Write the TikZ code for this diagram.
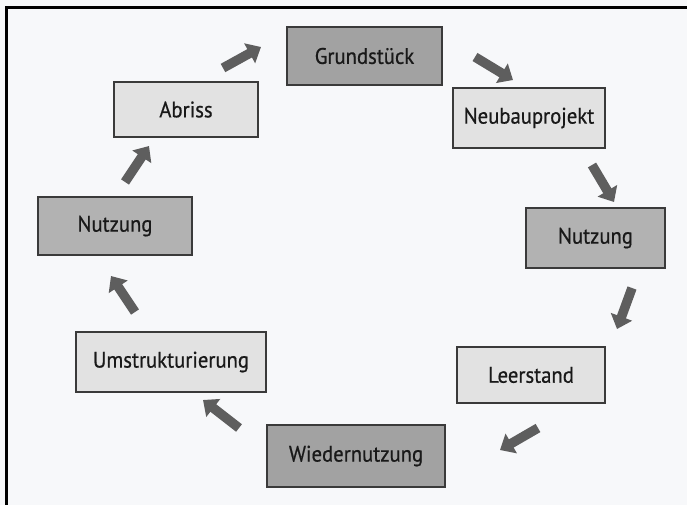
\documentclass[tikz,border=0pt]{standalone}
\usepackage{fontspec}
\setmainfont{PT Sans}[FakeStretch=0.92,FakeBold=0.6]
\usetikzlibrary{arrows.meta}
\definecolor{bg}{HTML}{F7F8FA}
\definecolor{lightbox}{HTML}{E2E2E2}
\definecolor{midbox}{HTML}{B2B2B2}
\definecolor{darkbox}{HTML}{A2A2A2}
\definecolor{edge}{HTML}{3A3A3A}
\definecolor{arrowgray}{HTML}{5E5E5E}
\tikzset{
  box/.style={draw=edge, line width=1.4pt, inner sep=0pt, text=black!90, font=\fontsize{22.5}{24}\selectfont},
  garrow/.style={draw=arrowgray, line width=9.5pt, -{Triangle[length=13pt,width=22pt]}},
}
\begin{document}
\begin{tikzpicture}[x=1pt,y=-1pt]
\useasboundingbox (0,0) rectangle (687,505);
\fill[bg] (0,0) rectangle (687,505);
\draw[line width=2.5pt] (6.5,505) -- (6.5,7.5) -- (687,7.5);

\node[box, fill=darkbox,  minimum width=155pt, minimum height=58pt] (grund) at (364.5,56) {Grundstück};
\node[box, fill=lightbox, minimum width=144pt, minimum height=55pt] (abriss) at (186,109.5) {Abriss};
\node[box, fill=lightbox, minimum width=152pt, minimum height=60pt] (neubau) at (529,118) {Neubauprojekt};
\node[box, fill=midbox,   minimum width=154pt, minimum height=58pt] (nutzl) at (115,226) {Nutzung};
\node[box, fill=midbox,   minimum width=139pt, minimum height=60pt] (nutzr) at (595.5,238) {Nutzung};
\node[box, fill=lightbox, minimum width=190pt, minimum height=60pt] (umstr) at (171,362) {Umstrukturierung};
\node[box, fill=lightbox, minimum width=148pt, minimum height=56pt] (leer) at (531,375) {Leerstand};
\node[box, fill=darkbox,  minimum width=178pt, minimum height=62pt] (wieder) at (356,456) {Wiedernutzung};

\coordinate (a1s) at (223,68);  \coordinate (a1e) at (261,47);
\coordinate (a2s) at (475,57);  \coordinate (a2e) at (513,80);
\coordinate (a3s) at (592,165); \coordinate (a3e) at (614,202);
\coordinate (a4s) at (632,288); \coordinate (a4e) at (617,329);
\coordinate (a5s) at (538,428); \coordinate (a5e) at (500,450);
\coordinate (a6s) at (239,428); \coordinate (a6e) at (203,400);
\coordinate (a7s) at (135,312); \coordinate (a7e) at (111,276);
\coordinate (a8s) at (125,182); \coordinate (a8e) at (149,146);

\draw[garrow] (a1s) -- (a1e);
\draw[garrow] (a2s) -- (a2e);
\draw[garrow] (a3s) -- (a3e);
\draw[garrow] (a4s) -- (a4e);
\draw[garrow] (a5s) -- (a5e);
\draw[garrow] (a6s) -- (a6e);
\draw[garrow] (a7s) -- (a7e);
\draw[garrow] (a8s) -- (a8e);
\end{tikzpicture}
\end{document}
